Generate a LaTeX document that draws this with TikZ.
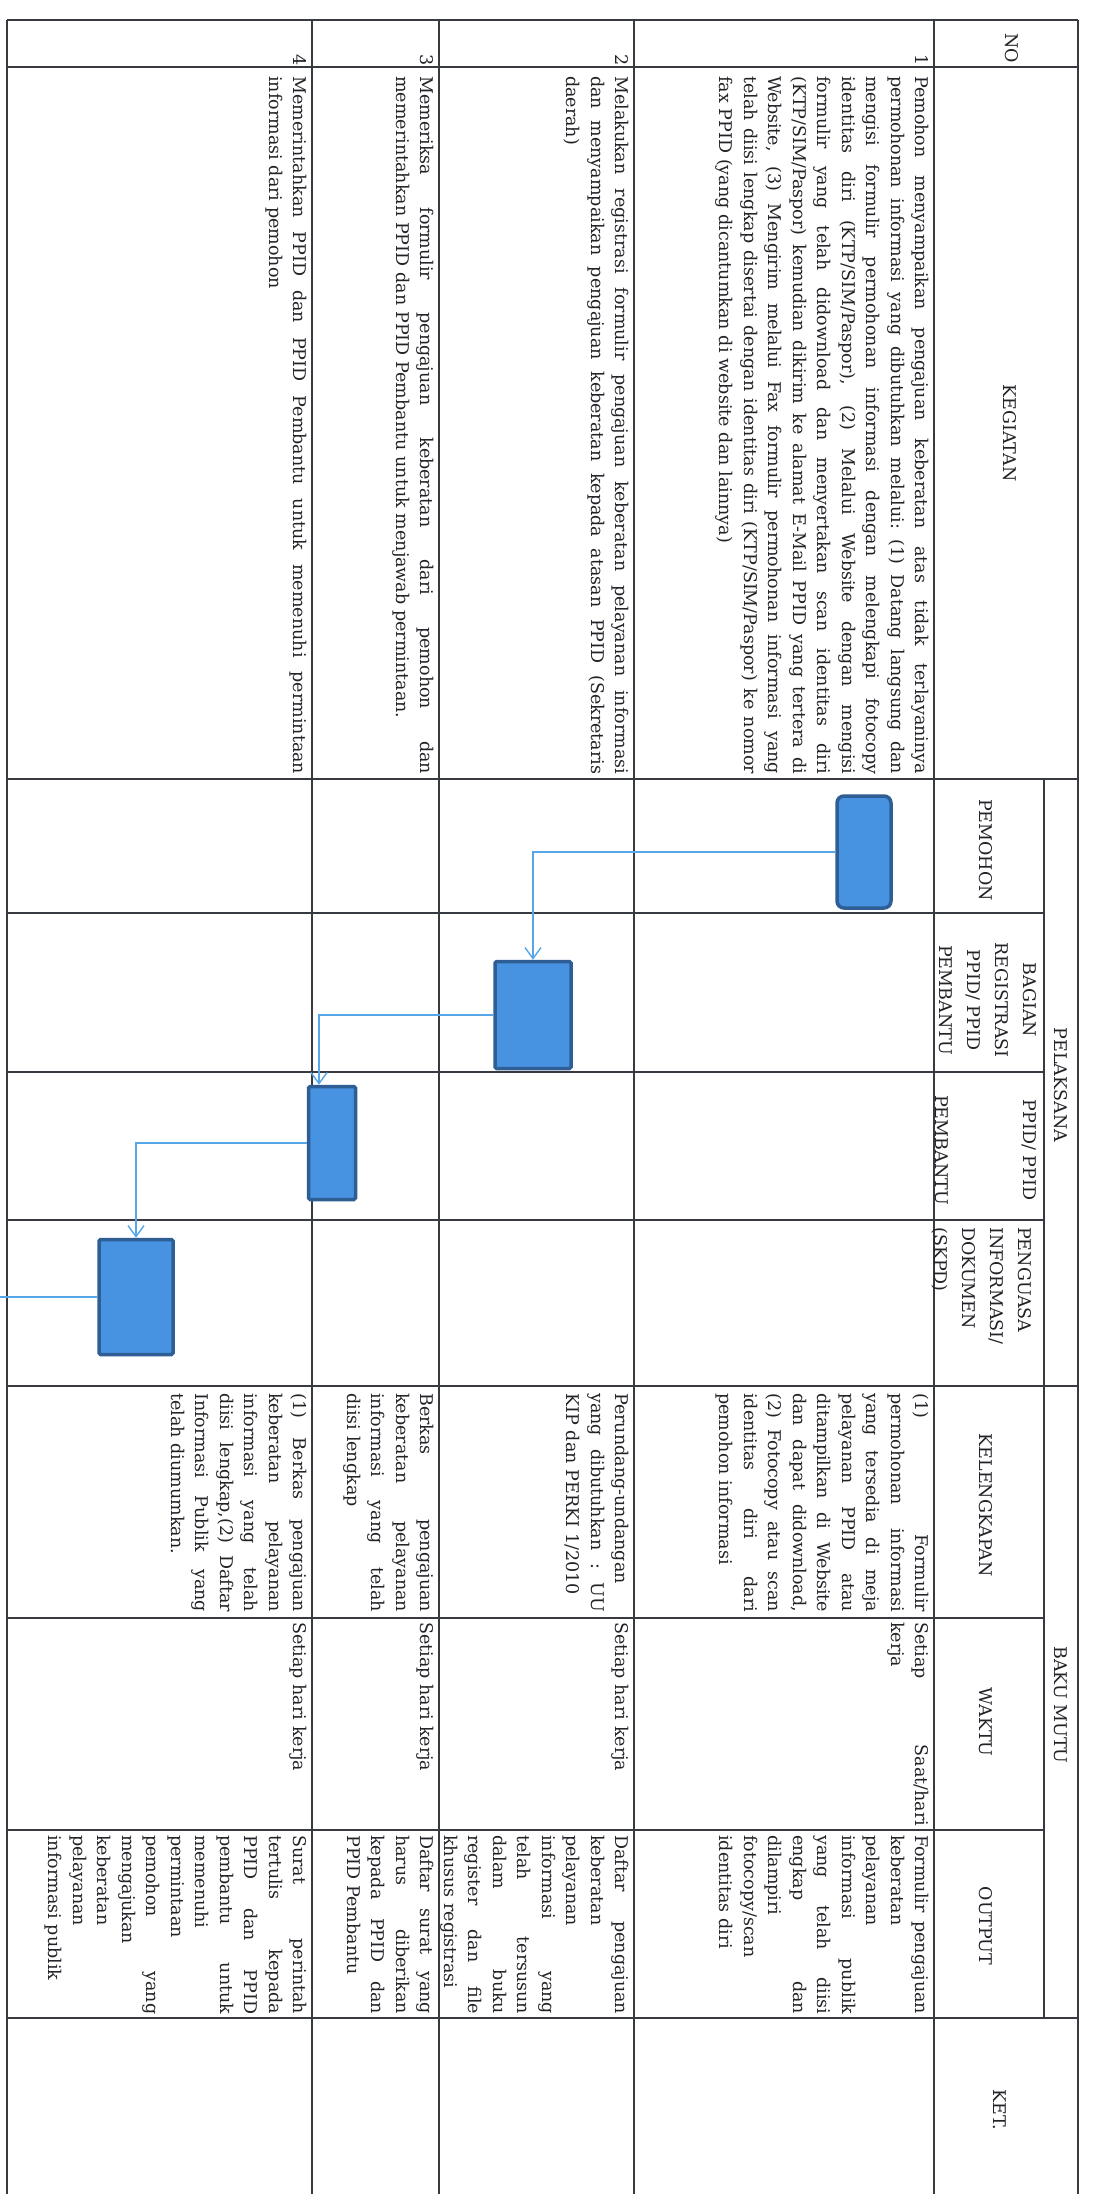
\documentclass[tikz,border=0pt]{standalone}
\usepackage{fontspec}
\setmainfont{DejaVu Serif}
\usetikzlibrary{arrows.meta}
\definecolor{gridgray}{RGB}{55,58,64}
\definecolor{inkgray}{RGB}{34,34,40}
\definecolor{boxfill}{RGB}{72,146,226}
\definecolor{boxedge}{RGB}{46,94,148}
\definecolor{linkblue}{RGB}{86,166,232}
\newcommand{\bodyfont}{\fontsize{17.5}{24.5}\selectfont}
\newcommand{\headfont}{\fontsize{17.5}{28}\selectfont}
\newcommand{\jl}[1]{\makebox[\hsize][s]{\spaceskip=0.33em plus 1fil\xspaceskip=0.33em plus 1fil #1}}
\setlength{\parindent}{0pt}

\begin{document}
\begin{tikzpicture}[x=1pt,y=-1pt,
  grid/.style={draw=gridgray,line width=1.8pt},
  head/.style={rotate=-90,inner sep=0pt,align=center,font=\headfont,text=inkgray},
  txt/.style={rotate=-90,anchor=north west,inner sep=0pt,align=left,font=\bodyfont,text=inkgray,execute at begin node=\strut},
  num/.style={rotate=-90,anchor=north east,inner sep=0pt,font=\bodyfont,text=inkgray,execute at begin node=\strut},
  stepbox/.style={draw=boxedge,fill=boxfill,line width=3.5pt,rounded corners=1.5pt},
  link/.style={draw=linkblue,line width=1.4pt},
  flow/.style={link,-{Straight Barb[length=11pt,width=16pt]}}]
\fill[white] (0,0) rectangle (1092,2194);
\useasboundingbox (0,0) rectangle (1092,2194);

\draw[grid] (7,20) -- (1078,20);
\draw[grid] (7,67) -- (1078,67);
\draw[grid] (7,779) -- (1078,779);
\draw[grid] (7,913) -- (1044,913);
\draw[grid] (7,1072) -- (1044,1072);
\draw[grid] (7,1220) -- (1044,1220);
\draw[grid] (7,1386) -- (1078,1386);
\draw[grid] (7,1618) -- (1044,1618);
\draw[grid] (7,1830) -- (1044,1830);
\draw[grid] (7,2018) -- (1078,2018);
\draw[grid] (7,20) -- (7,2194);
\draw[grid] (312,20) -- (312,2194);
\draw[grid] (439,20) -- (439,2194);
\draw[grid] (634,20) -- (634,2194);
\draw[grid] (934,20) -- (934,2194);
\draw[grid] (1044,779) -- (1044,2018);
\draw[grid] (1078,20) -- (1078,2194);

\node[head] (hNo) at (1012,48) {NO};
\node[head] (hKeg) at (1010,433) {KEGIATAN};
\node[head] (hPel) at (1061,1085) {PELAKSANA};
\node[head] (hPem) at (986,850) {PEMOHON};
\node[head] (hBag) at (988,1000) {BAGIAN\\REGISTRASI\\PPID/ PPID\\PEMBANTU};
\node[head] (hPpid) at (986,1150) {PPID/ PPID\\[60pt]PEMBANTU};
\node[head,anchor=west,align=left] (hPeng) at (982,1227) {PENGUASA\\INFORMASI/\\DOKUMEN\\(SKPD)};
\node[head] (hBaku) at (1061,1705) {BAKU MUTU};
\node[head] (hKel) at (986,1505) {KELENGKAPAN};
\node[head] (hWak) at (986,1722) {WAKTU};
\node[head] (hOut) at (986,1926) {OUTPUT};
\node[head] (hKet) at (1000,2110) {KET.};

\node[num] (no1) at (933,66) {1};
\node[num] (no2) at (633,66) {2};
\node[num] (no3) at (438,66) {3};
\node[num] (no4) at (311,66) {4};

\node[txt,text width=698pt] (keg1) at (933,76) {\jl{Pemohon menyampaikan pengajuan keberatan atas tidak terlayaninya}\\
\jl{permohonan informasi yang dibutuhkan melalui: (1) Datang langsung dan}\\
\jl{mengisi formulir permohonan informasi dengan melengkapi fotocopy}\\
\jl{identitas diri (KTP/SIM/Paspor), (2) Melalui Website dengan mengisi}\\
\jl{formulir yang telah didownload dan menyertakan scan identitas diri}\\
\jl{(KTP/SIM/Paspor) kemudian dikirim ke alamat E-Mail PPID yang tertera di}\\
\jl{Website, (3) Mengirim melalui Fax formulir permohonan informasi yang}\\
\jl{telah diisi lengkap disertai dengan identitas diri (KTP/SIM/Paspor) ke nomor}\\
fax PPID (yang dicantumkan di website dan lainnya)};
\node[txt,text width=698pt] (keg2) at (633,76) {\jl{Melakukan registrasi formulir pengajuan keberatan pelayanan informasi}\\
\jl{dan menyampaikan pengajuan keberatan kepada atasan PPID (Sekretaris}\\
daerah)};
\node[txt,text width=698pt] (keg3) at (438,76) {\jl{Memeriksa formulir pengajuan keberatan dari pemohon dan}\\
memerintahkan PPID dan PPID Pembantu untuk menjawab permintaan.};
\node[txt,text width=698pt] (keg4) at (311,76) {\jl{Memerintahkan PPID dan PPID Pembantu untuk memenuhi permintaan}\\
informasi dari pemohon};

\node[txt,text width=219pt] (kel1) at (933,1393) {\jl{(1) Formulir}\\ \jl{permohonan informasi}\\ \jl{yang tersedia di meja}\\ \jl{pelayanan PPID atau}\\ \jl{ditampilkan di Website}\\ \jl{dan dapat didownload,}\\ \jl{(2) Fotocopy atau scan}\\ \jl{identitas diri dari}\\ pemohon informasi};
\node[txt,text width=219pt] (kel2) at (633,1393) {Perundang-undangan\\ \jl{yang dibutuhkan : UU}\\ KIP dan PERKI 1/2010};
\node[txt,text width=219pt] (kel3) at (438,1393) {\jl{Berkas pengajuan}\\ \jl{keberatan pelayanan}\\ \jl{informasi yang telah}\\ diisi lengkap};
\node[txt,text width=219pt] (kel4) at (311,1393) {\jl{(1) Berkas pengajuan}\\ \jl{keberatan pelayanan}\\ \jl{informasi yang telah}\\ \jl{diisi lengkap,(2) Daftar}\\ \jl{Informasi Publik yang}\\ telah diumumkan.};

\node[txt,text width=204pt] (wak1) at (933,1622) {\jl{Setiap Saat/hari}\\ kerja};
\node[txt,text width=204pt] (wak2) at (633,1622) {Setiap hari kerja};
\node[txt,text width=204pt] (wak3) at (438,1622) {Setiap hari kerja};
\node[txt,text width=204pt] (wak4) at (311,1622) {Setiap hari kerja};

\node[txt,text width=179pt] (out1) at (933,1835) {\jl{Formulir pengajuan}\\ keberatan\\ pelayanan\\ \jl{informasi publik}\\ \jl{yang telah diisi}\\ \jl{lengkap dan}\\ dilampiri\\ fotocopy/scan\\ identitas diri};
\node[txt,text width=179pt] (out2) at (633,1835) {\jl{Daftar pengajuan}\\ keberatan\\ pelayanan\\ \jl{informasi yang}\\ \jl{telah tersusun}\\ \jl{dalam buku}\\ \jl{register dan file}\\ khusus registrasi};
\node[txt,text width=179pt] (out3) at (438,1835) {\jl{Daftar surat yang}\\ \jl{harus diberikan}\\ \jl{kepada PPID dan}\\ PPID Pembantu};
\node[txt,text width=179pt] (out4) at (311,1835) {\jl{Surat perintah}\\ \jl{tertulis kepada}\\ \jl{PPID dan PPID}\\ \jl{pembantu untuk}\\ memenuhi\\ permintaan\\ \jl{pemohon yang}\\ mengajukan\\ keberatan\\ pelayanan\\ informasi publik};

\node[stepbox,rounded corners=7pt,minimum width=54pt,minimum height=112pt] (s1) at (864,852) {};
\node[stepbox,minimum width=76pt,minimum height=107pt] (s2) at (533,1015) {};
\node[stepbox,minimum width=47pt,minimum height=113pt] (s3) at (332,1143) {};
\node[stepbox,minimum width=74pt,minimum height=115pt] (s4) at (136,1297) {};
\coordinate (rim) at (0,1297);

\draw[flow] (s1.west) -| (s2.north);
\draw[flow] (s2.west) -| ([xshift=-13pt]s3.north);
\draw[flow] (s3.west) -| (s4.north);
\draw[link] (s4.west) -- (s4.west -| rim);
\end{tikzpicture}
\end{document}
